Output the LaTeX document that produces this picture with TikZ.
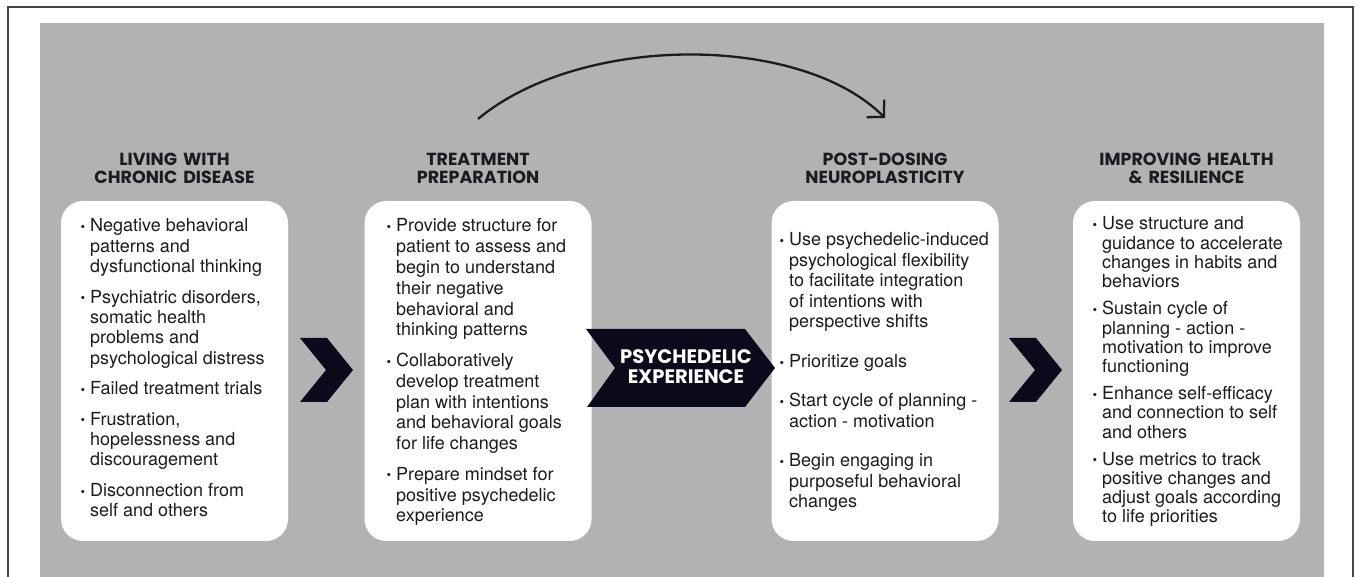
\documentclass[tikz,border=0pt]{standalone}
\usepackage{fontspec}
\setmainfont{TeX Gyre Heros}
\newfontfamily\headfont{Poppins}
\usetikzlibrary{arrows.meta}
\definecolor{bggray}{RGB}{178,178,178}
\definecolor{framegray}{RGB}{70,70,70}
\definecolor{navy}{RGB}{10,10,26}
\definecolor{ink}{RGB}{28,28,32}
\newlength\igap
\newcommand\bul{\raisebox{0.4pt}{\fontsize{13}{13}\selectfont\textbullet}}
\newcommand\pitem[1]{\par\hangindent=9.5pt\hangafter=1\noindent\makebox[9.5pt][l]{\bul}{\let\\\newline#1}\par\vspace{\igap}}
\newcommand\listbox[3]{\begin{minipage}[t]{250pt}\fontsize{18}{#1}\selectfont\setlength\igap{#2}\raggedright#3\end{minipage}}
\tikzset{
	card/.style={fill=white,rounded corners=22pt,minimum width=227,minimum height=340,inner sep=0},
	head/.style={anchor=base,text width=260,align=center,inner sep=0,text=ink,font=\headfont\bfseries\fontsize{17.5}{18}\selectfont},
	blist/.style={anchor=base west,inner sep=0,text=ink},
	chev/.style={fill=navy},
}
\begin{document}
\begin{tikzpicture}[x=1pt,y=1pt]
		\useasboundingbox (0,0) rectangle (1358,577);
		\draw [framegray,line width=1.2] (8,0) -- (8,570) -- (1353,570) -- (1353,0);
		\fill [bggray] (40,0) rectangle (1324,554);
		\node [card] (card1) at (174.5,206) {};
		\node [card] (card2) at (478,206) {};
		\node [card] (card3) at (885,206) {};
		\node [card] (card4) at (1186.5,206) {};
		\node [head] (head1) at (174.5,411) {LIVING WITH\\CHRONIC DISEASE};
		\node [head] (head2) at (478,411) {TREATMENT\\PREPARATION};
		\node [head] (head3) at (885,411) {POST-DOSING\\NEUROPLASTICITY};
		\node [head] (head4) at (1186.5,411) {IMPROVING HEALTH\\\& RESILIENCE};
		\node [blist] (list1) at (80.5,345) {\listbox{20.3pt}{10.3pt}{%
			\pitem{Negative behavioral\\patterns and\\dysfunctional thinking}%
			\pitem{Psychiatric disorders,\\somatic health\\problems and\\psychological distress}%
			\pitem{Failed treatment trials}%
			\pitem{Frustration,\\hopelessness and\\discouragement}%
			\pitem{Disconnection from\\self and others}}};
		\node [blist] (list2) at (386.5,345) {\listbox{20.8pt}{9.8pt}{%
			\pitem{Provide structure for\\patient to assess and\\begin to understand\\their negative\\behavioral and\\thinking patterns}%
			\pitem{Collaboratively\\develop treatment\\plan with intentions\\and behavioral goals\\for life changes}%
			\pitem{Prepare mindset for\\positive psychedelic\\experience}}};
		\node [blist] (list3) at (779.5,331) {\listbox{20.5pt}{19pt}{%
			\pitem{Use psychedelic-induced\\psychological flexibility\\to facilitate integration\\of intentions with\\perspective shifts}%
			\pitem{Prioritize goals}%
			\pitem{Start cycle of planning -\\action - motivation}%
			\pitem{Begin engaging in\\purposeful behavioral\\changes}}};
		\node [blist] (list4) at (1092.5,347) {\listbox{19.3pt}{7.6pt}{%
			\pitem{Use structure and\\guidance to accelerate\\changes in habits and\\behaviors}%
			\pitem{Sustain cycle of\\planning - action -\\motivation to improve\\functioning}%
			\pitem{Enhance self-efficacy\\and connection to self\\and others}%
			\pitem{Use metrics to track\\positive changes and\\adjust goals according\\to life priorities}}};
		\fill [chev] (300,239) -- (327,239) -- (353,207) -- (327,175) -- (300,175) -- (326,207) -- cycle;
		\fill [chev] (586,248) -- (745,248) -- (775,209) -- (745,170) -- (587,170) -- (615,209) -- cycle;
		\fill [chev] (1009,239) -- (1036,239) -- (1062,207) -- (1036,175) -- (1009,175) -- (1035,207) -- cycle;
		\node [anchor=base,text width=200,align=center,inner sep=0,text=white,font=\headfont\bfseries\fontsize{19.5}{19.5}\selectfont] (psy) at (686,213) {PSYCHEDELIC\\EXPERIENCE};
		\coordinate (arcS) at (478,458);
		\coordinate (arcE) at (885,459);
		\draw [ink,line width=2.3,-{Straight Barb[length=12pt,width=25pt]}] (arcS) .. controls (580,543) and (800,544) .. (arcE);
	\end{tikzpicture}
\end{document}
